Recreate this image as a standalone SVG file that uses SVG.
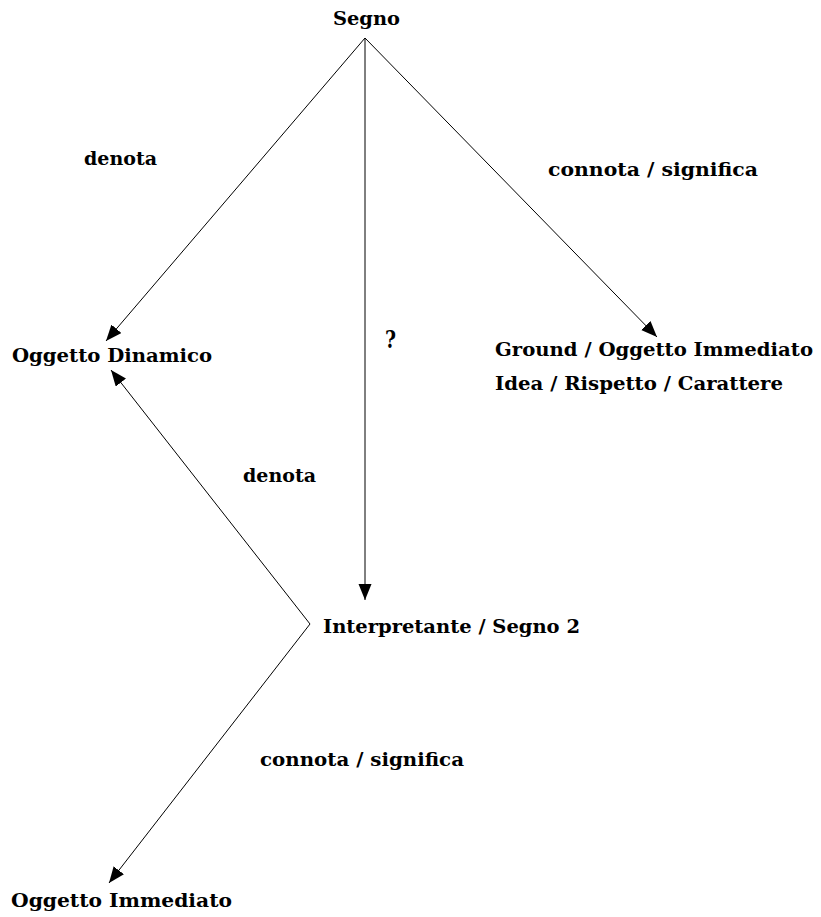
<svg xmlns="http://www.w3.org/2000/svg" width="821" height="917" viewBox="0 0 821 917">
<style>
text{font-family:"DejaVu Serif","Liberation Serif",serif;font-weight:bold;font-size:19px;fill:#000}
.c line{stroke:#000;stroke-width:1}
</style>
<defs>
<marker id="ah" markerUnits="userSpaceOnUse" markerWidth="18" markerHeight="14" refX="16" refY="6.5" orient="auto">
<path d="M0,0 L16,6.5 L0,13 z" fill="#000"/>
</marker>
</defs>
<rect width="821" height="917" fill="#fff"/>
<g class="c" id="connectors">
<line x1="365" y1="38" x2="106" y2="341" marker-end="url(#ah)"/>
<line x1="365" y1="38" x2="365" y2="600" marker-end="url(#ah)"/>
<line x1="365" y1="38" x2="657" y2="337" marker-end="url(#ah)"/>
<line x1="310" y1="624" x2="111" y2="370" marker-end="url(#ah)"/>
<line x1="310" y1="624" x2="109" y2="883" marker-end="url(#ah)"/>
</g>
<g id="segno"><text x="333" y="25" textLength="67" lengthAdjust="spacingAndGlyphs">Segno</text></g>
<g id="label-denota-1"><text x="84" y="165" textLength="73" lengthAdjust="spacingAndGlyphs">denota</text></g>
<g id="label-connota-1"><text x="548" y="176" textLength="210" lengthAdjust="spacingAndGlyphs">connota / significa</text></g>
<g id="oggetto-dinamico"><text x="12" y="362" textLength="200" lengthAdjust="spacingAndGlyphs">Oggetto Dinamico</text></g>
<g id="label-q"><text x="385" y="348" style="font-size:25px" textLength="11" lengthAdjust="spacingAndGlyphs">?</text></g>
<g id="ground">
<text x="495" y="356" textLength="318" lengthAdjust="spacingAndGlyphs">Ground / Oggetto Immediato</text>
<text x="495" y="390" textLength="288" lengthAdjust="spacingAndGlyphs">Idea / Rispetto / Carattere</text>
</g>
<g id="label-denota-2"><text x="243" y="482" textLength="73" lengthAdjust="spacingAndGlyphs">denota</text></g>
<g id="interpretante"><text x="323" y="633" textLength="257" lengthAdjust="spacingAndGlyphs">Interpretante / Segno 2</text></g>
<g id="label-connota-2"><text x="260" y="766" textLength="204" lengthAdjust="spacingAndGlyphs">connota / significa</text></g>
<g id="oggetto-immediato"><text x="11" y="907" textLength="221" lengthAdjust="spacingAndGlyphs">Oggetto Immediato</text></g>
</svg>
